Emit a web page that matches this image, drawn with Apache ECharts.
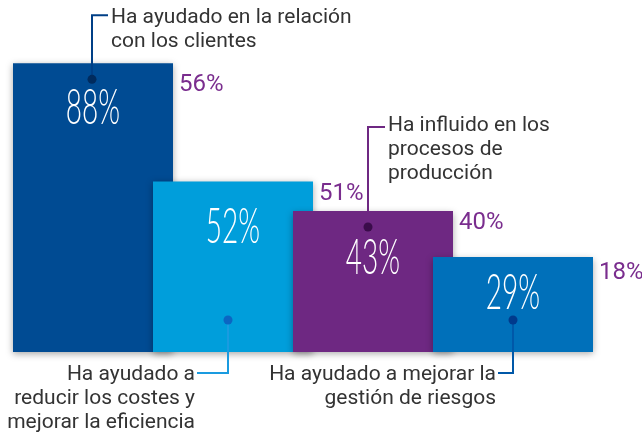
<!DOCTYPE html>
<html>
<head>
<meta charset="utf-8">
<script src="https://cdn.jsdelivr.net/npm/echarts@6/dist/echarts.min.js"></script>
<style>html,body{margin:0;padding:0;background:#fff;}#c{width:642px;height:434px;}</style>
</head>
<body>
<div id="c"></div>
<script>
// ---- data ----
const categories = ['relacion', 'costes', 'produccion', 'riesgos'];
const categoryLabels = [
  ['Ha ayudado en la relación', 'con los clientes'],
  ['Ha ayudado a', 'reducir los costes y', 'mejorar la eficiencia'],
  ['Ha influido en los', 'procesos de', 'producción'],
  ['Ha ayudado a mejorar la', 'gestión de riesgos']
];
const mainValues = [88, 52, 43, 29];
const secondaryValues = [56, 51, 40, 18];

// ---- styles ----
const barColors = ['#004b93', '#009edb', '#6e2882', '#0070ba'];
const lineColors = ['#003f86', '#1a9be0', '#6e2882', '#0058a8'];
const dotColors = ['#002b5e', '#0b66c3', '#3a0c4a', '#003a8c'];
const purple = '#7a2d8e';
const textGray = '#333333';
// callout layout: direction, dot offset, line end, horizontal length
const callouts = [
  {dir: 'up', dx: -1, dotDy: 16, endDy: -48, hLen: 16, lblDy: 45, secDy: 22, textDy: -10},
  {dir: 'down', dx: -5, dotDy: -32, endDy: 21, hLen: 31, lblDy: 45, secDy: 13, textDy: -10},
  {dir: 'up', dx: -5, dotDy: 16, endDy: -84, hLen: 17, lblDy: 47, secDy: 12, textDy: -13},
  {dir: 'down', dx: 0, dotDy: -32, endDy: 21, hLen: 15, lblDy: 36, secDy: 16, textDy: -10}
];

const chart = echarts.init(document.getElementById('c'), null, {renderer: 'canvas'});

function renderItem(params, api) {
  const i = params.dataIndex;
  const top = api.coord([api.value(0), api.value(1)]);
  const bottom = api.coord([api.value(0), 0]);
  const cfg = callouts[i];
  const cx = top[0];
  const children = [];
  // secondary (purple) label
  children.push({
    type: 'text', x: cx + 86, y: top[1] + cfg.secDy,
    style: {text: api.value(2) + '%', fill: purple, font: '24px Roboto', textAlign: 'left', textVerticalAlign: 'middle'}
  });
  // big value label
  children.push({
    type: 'text', x: cx, y: top[1] + cfg.lblDy, scaleX: 0.56,
    style: {text: api.value(1) + '%', fill: '#ffffff', font: '300 50px Lato', textAlign: 'center', textVerticalAlign: 'middle'}
  });
  // callout
  const dx = cx + cfg.dx;
  let dotY, endY, endX, textX, align;
  if (cfg.dir === 'up') {
    dotY = top[1] + cfg.dotDy;
    endY = top[1] + cfg.endDy;
    endX = dx + cfg.hLen;
    textX = endX + 3;
    align = 'left';
  } else {
    dotY = bottom[1] + cfg.dotDy;
    endY = bottom[1] + cfg.endDy;
    endX = dx - cfg.hLen;
    textX = endX - 2;
    align = 'right';
  }
  children.push({
    type: 'polyline',
    shape: {points: [[dx, dotY], [dx, endY], [endX, endY]]},
    style: {stroke: lineColors[i], lineWidth: 2, fill: null}
  });
  children.push({
    type: 'circle', shape: {cx: dx, cy: dotY, r: 4.5},
    style: {fill: dotColors[i]}
  });
  children.push({
    type: 'text', x: textX, y: endY + cfg.textDy,
    style: {text: categoryLabels[i].join('\n'), fill: textGray, font: '21px Roboto', lineHeight: 24, textAlign: align, textVerticalAlign: 'top'}
  });
  return {type: 'group', children: children};
}

chart.setOption({
  animation: false,
  grid: {left: 23, right: 59, top: 24, bottom: 82},
  xAxis: {type: 'category', data: categories, show: false},
  yAxis: {type: 'value', min: 0, max: 100, show: false},
  series: [
    {
      type: 'bar',
      z: 2,
      clip: false,
      barWidth: 160,
      data: mainValues.map((v, i) => ({
        value: v,
        itemStyle: {color: barColors[i], shadowBlur: 7, shadowColor: 'rgba(0,0,0,0.35)', shadowOffsetX: 0, shadowOffsetY: 2}
      }))
    },
    {
      type: 'custom',
      z: 5,
      clip: false,
      renderItem: renderItem,
      data: mainValues.map((v, i) => [i, v, secondaryValues[i]])
    }
  ]
});
</script>
</body>
</html>
